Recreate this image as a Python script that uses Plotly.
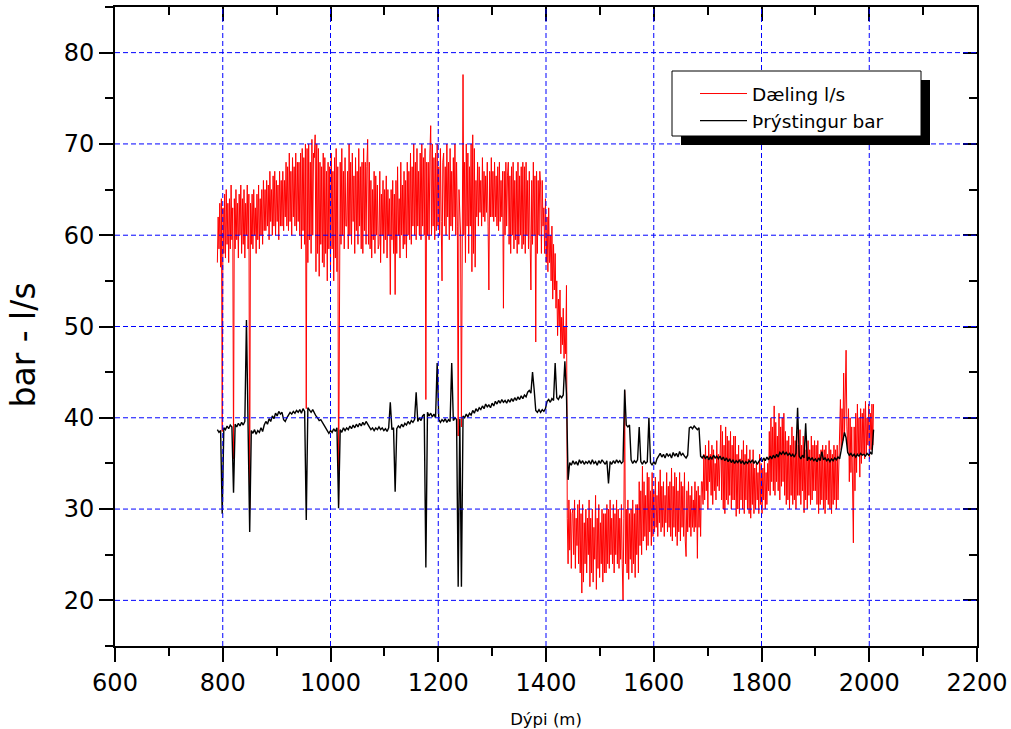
import numpy as np
import plotly.graph_objects as go

# Depth sampling of the two logs (m)
DEPTH_START = 790
RATE_STEP = 1.5       # Dæling sampled every 1.5 m
PRESSURE_STEP = 3     # Þrýstingur sampled every 3 m

# Dæling (pump rate, l/s), one row per 30 m starting at the depth in the comment
daeling = [
    57, 62, 58.5, 63.5, 56.5, 64, 38.5, 63, 58, 64.5, 57.5, 65, 59, 63.5, 57, 64, 58.5, 65.5, 59.5, 63,            # 790
    35.5, 64, 58.5, 65, 59.5, 63.5, 57.5, 64.5, 60, 65.5, 58, 64, 59, 65, 57.5, 63.5, 60, 65.5, 58.5, 64.5,        # 820
    30, 63.5, 59, 64.5, 58.5, 65, 60, 63, 58, 64.5, 59.5, 65.5, 58.5, 64, 60, 65, 59, 66, 60.5, 65,                # 850
    60.5, 66, 61, 65.5, 59.5, 67, 61.5, 65, 60, 66.5, 61, 67, 60, 66, 61.5, 65.5, 59.5, 67, 61, 66,                # 880
    61, 67, 60.5, 66, 62, 68, 61, 67.5, 60.5, 69, 61.5, 67, 60, 68.5, 62, 67.5, 61, 69, 60.5, 68,                  # 910
    61.5, 68, 60, 69, 58.5, 69.5, 60.5, 68.5, 59, 70, 41, 69.5, 57, 70, 59.5, 68, 58, 70.5, 60, 69,                # 940
    68.5, 71, 56, 70, 58, 69.5, 55.5, 68, 59, 67.5, 57, 69, 56.5, 68.5, 58, 67, 55, 68, 58.5, 67.5,                # 970
    56, 69, 58.5, 67, 55, 68.5, 57.5, 69.5, 56, 67.5, 30.5, 62, 68, 59, 69.5, 60, 67, 58.5, 68.5, 61,              # 1000
    61, 67, 58.5, 70, 60, 68, 59, 69, 61.5, 66.5, 58, 68.5, 60.5, 67, 59, 69.5, 61, 67.5, 58.5, 68,                # 1030
    58, 69.5, 60.5, 68, 59, 67.5, 70.5, 59, 68, 58.5, 66, 57.5, 65, 59.5, 67, 58, 66.5, 60, 65.5, 58.5,            # 1060
    59, 67, 57, 64.5, 60, 66, 58, 65, 59.5, 66.5, 57.5, 65, 60, 64, 53.5, 65, 59.5, 66, 58, 64.5,                  # 1090
    53.5, 66, 58, 67.5, 60, 64, 57.5, 68, 60, 65.5, 58.5, 67, 59, 66, 57.5, 68, 60, 67, 59.5, 69,                  # 1120
    59, 67.5, 61, 70, 60, 68, 59.5, 69.5, 61, 67, 60, 69, 59.5, 70, 61, 68.5, 60, 69.5, 42, 68,                    # 1150
    60, 68, 59.5, 69, 72, 60, 70, 61, 68.5, 59.5, 69, 60.5, 70, 61, 67.5, 60, 69.5, 61.5, 55, 68,                  # 1180
    69, 61, 67.5, 60, 70, 62, 68, 59.5, 69.5, 61, 67, 60.5, 68.5, 62, 70, 60, 68, 61, 38, 65,                      # 1210
    63, 60, 39, 66, 77.6, 60, 68, 57, 70, 61, 69, 58, 67.5, 61, 70, 56, 71, 58, 69.5, 56.5,                        # 1240
    66, 62, 68, 61, 67.5, 62.5, 66, 61, 68.5, 62, 67, 61.5, 66.5, 62.5, 68, 61, 54, 67, 62, 68.5,                  # 1270
    62, 67, 61.5, 68, 62, 66.5, 61, 67.5, 60.5, 68, 61.5, 66, 62, 67, 52, 67, 60, 68, 61, 66.5,                    # 1300
    68, 59, 66.5, 58, 67.5, 60, 68, 58.5, 66, 59.5, 67, 58, 68, 59, 66.5, 60, 67.5, 58.5, 68, 59,                  # 1330
    67.5, 58, 68, 60, 66, 58.5, 67, 59.5, 54, 66, 59, 68, 60, 66.5, 48.3, 67, 58, 66, 60, 67,                      # 1360
    65.5, 58, 66, 61, 63, 58, 64, 57, 62, 56, 63, 57, 60, 55, 61, 53, 59, 54, 58, 52,                              # 1390
    55, 49, 53, 50, 54, 47, 51, 48, 52, 46.5, 50, 47, 54.5, 29, 24, 31, 25.5, 30, 23.5, 29.5,                      # 1420
    30, 25, 31, 23.5, 29, 26, 30.5, 24, 31, 23, 29.5, 20.8, 30.5, 22, 28.5, 24, 30, 23, 29, 25,                    # 1450
    31, 21.5, 29, 23, 30, 22, 28, 24.5, 31.5, 21.2, 29, 23.5, 30.5, 22.5, 28.5, 24, 30, 22, 29.5, 23,              # 1480
    29.5, 23, 30.5, 24, 30, 23.5, 31, 25, 29, 24, 30.5, 23, 29.5, 25, 31, 24, 30, 23.5, 29, 24.5,                  # 1510
    30.5, 24, 20, 29, 43, 24, 30, 23, 31, 22.3, 29.5, 24.5, 30, 23, 31, 24, 29.5, 22.5, 30.5, 25,                  # 1540
    30.5, 23, 33, 26, 32, 25, 34.7, 26.5, 33, 27, 31.5, 25.5, 34, 26, 33.5, 27.5, 32, 26, 34, 27,                  # 1570
    32, 27.5, 33.5, 28, 31.5, 27, 33, 28.5, 34.3, 27.5, 32.5, 28, 33, 27, 31.5, 28.5, 34, 27.5, 32.5, 28,          # 1600
    33, 27, 34.5, 26.5, 32.5, 28, 34, 27, 33.5, 26, 32, 27.5, 34, 26.5, 33, 28, 32.5, 27, 34, 26.5,                # 1630
    24.8, 32, 27.5, 33, 28, 31.5, 27, 32.5, 28, 31, 27.5, 33, 28, 32, 24.6, 32.5, 28, 31.5, 27, 33,                # 1660
    33, 30.5, 36, 31, 37, 32, 35.5, 30, 37.5, 33, 36, 31.5, 37, 30.5, 36.5, 32, 35, 31, 37.5, 32.5,                # 1690
    36, 32, 37, 39.2, 31, 38.5, 30, 37, 29.5, 39, 31, 38, 30.5, 37.5, 31.5, 38.5, 30, 37, 31, 38,                  # 1720
    31, 38, 29.2, 36, 30, 37, 29.5, 35.5, 31, 36.5, 30, 37.5, 29.5, 36, 31, 37, 30, 35.5, 29.5, 36.5,              # 1750
    29, 35, 30.5, 36.5, 29.5, 34.5, 30, 35, 31, 34, 29.5, 36, 30.5, 35, 29.5, 34.5, 31, 35.5, 30, 34,              # 1780
    30.5, 35, 32, 38.5, 31.5, 40, 33, 39, 32, 41.3, 31.5, 39.5, 33, 38, 32, 40.5, 31, 39, 32.5, 40,                # 1810
    33, 40.5, 31.5, 38.5, 30.5, 37.5, 31, 38, 30, 37, 31.5, 39, 30.5, 38, 31, 37.5, 30, 38.5, 31.5, 37,            # 1840
    31.5, 38.7, 30.5, 37, 32, 38, 29.6, 36.5, 31, 38, 30, 37.5, 31.5, 36.5, 30.5, 38, 31, 37, 32, 37.5,            # 1870
    32, 37, 30.5, 37.5, 29.5, 36, 30.5, 36.5, 31, 37, 30, 36.5, 29.5, 37, 31, 36, 30.5, 37.5, 30, 36.5,            # 1900
    29.5, 36, 30.5, 37, 31, 36.5, 30, 37, 31, 36, 37, 42, 36.5, 41, 37.5, 44.9, 38, 43, 47.4, 39,                  # 1930
    36.5, 41, 33, 40, 34, 39, 32.5, 26.3, 39, 32, 40.5, 34, 41.5, 36, 40, 33.5, 41, 35, 40.5, 36,                  # 1960
    41, 35.5, 41.8, 36, 40, 37, 41.5, 35.5, 40.5, 36.5, 41.5, 37, 41.5,                                            # 1990
]

# Þrýstingur (pressure, bar), one row per 30 m starting at the depth in the comment
thrystingur = [
    38.7, 38.4, 38.6, 29.5, 38.9, 38.7, 39.1, 38.8, 39.2, 39.0,  # 790
    31.8, 39.3, 39.0, 39.4, 39.1, 39.5, 39.2, 39.6, 50.7, 39.4,  # 820
    27.5, 38.6, 38.3, 38.7, 38.2, 38.6, 38.4, 38.9, 38.5, 39.2,  # 850
    39.6, 39.3, 39.9, 39.6, 40.2, 39.9, 40.5, 40.2, 40.7, 40.4,  # 880
    40.6, 39.8, 39.6, 40.0, 40.3, 40.6, 40.4, 40.7, 40.5, 40.8,  # 910
    40.6, 40.9, 40.5, 41.0, 40.7, 28.8, 41.1, 40.8, 40.6, 40.9,  # 940
    40.5, 40.2, 40.0, 39.7, 39.8, 39.4, 39.2, 38.9, 38.6, 38.3,  # 970
    38.6, 38.4, 38.8, 38.5, 38.9, 30.1, 38.7, 38.4, 38.9, 38.6,  # 1000
    38.9, 38.7, 39.1, 38.8, 39.2, 38.9, 39.3, 39.0, 39.4, 39.1,  # 1030
    39.5, 39.2, 39.6, 39.3, 39.0, 38.7, 38.9, 38.6, 38.9, 38.7,  # 1060
    39.0, 38.7, 38.9, 38.6, 38.8, 38.5, 38.9, 41.7, 38.7, 38.9,  # 1090
    31.9, 38.8, 39.1, 38.9, 39.3, 39.0, 39.4, 39.2, 39.6, 39.3,  # 1120
    39.7, 39.5, 39.8, 42.8, 39.6, 40.0, 39.7, 40.2, 40.4, 23.6,  # 1150
    40.6, 40.2, 40.5, 40.1, 40.4, 40.0, 46.0, 39.8, 39.5, 39.8,  # 1180
    39.6, 39.9, 39.5, 39.8, 39.6, 46.0, 39.7, 40.0, 39.8, 21.5,  # 1210
    39.9, 21.5, 40.2, 40.0, 40.4, 40.1, 40.5, 40.3, 40.8, 40.5,  # 1240
    41.0, 40.7, 41.1, 40.9, 41.3, 41.0, 41.5, 41.2, 41.4, 41.1,  # 1270
    41.6, 41.3, 41.8, 41.5, 41.9, 41.6, 42.0, 41.7, 41.9, 41.6,  # 1300
    42.0, 41.7, 42.1, 41.8, 42.2, 41.9, 42.3, 42.0, 42.4, 42.1,  # 1330
    42.5, 42.3, 42.8, 43.0, 42.7, 45.0, 43.1, 40.8, 40.6, 40.9,  # 1360
    40.6, 40.9, 40.7, 41.0, 41.8, 42.0, 41.7, 42.1, 41.9, 46.0,  # 1390
    42.2, 42.0, 42.4, 42.2, 42.5, 46.2, 42.6, 33.2, 35.1, 34.8,  # 1420
    35.3, 34.9, 35.2, 34.8, 35.4, 35.0, 35.3, 34.9, 35.2, 35.0,  # 1450
    35.3, 34.9, 35.4, 35.0, 35.2, 34.8, 35.3, 35.0, 35.4, 35.1,  # 1480
    34.9, 35.3, 32.8, 35.2, 34.9, 35.3, 35.0, 35.4, 35.1, 35.3,  # 1510
    35.0, 35.2, 43.1, 39.2, 39.0, 39.2, 35.4, 35.0, 35.3, 35.1,  # 1540
    35.4, 39.0, 35.2, 34.9, 35.3, 35.0, 35.2, 40.0, 35.1, 34.8,  # 1570
    35.2, 34.9, 35.5, 35.8, 36.1, 35.7, 36.0, 35.6, 36.1, 35.8,  # 1600
    36.0, 35.6, 36.2, 35.8, 36.1, 35.7, 36.3, 35.9, 36.1, 35.8,  # 1630
    35.6, 35.9, 38.9, 39.0, 38.8, 39.1, 38.9, 38.7, 38.9, 35.8,  # 1660
    35.6, 35.9, 35.5, 35.8, 35.4, 35.7, 35.5, 35.9, 35.6, 35.8,  # 1690
    35.5, 35.8, 35.4, 35.7, 35.3, 35.6, 35.2, 35.5, 35.1, 35.4,  # 1720
    35.0, 35.3, 35.1, 35.4, 35.0, 35.3, 34.9, 35.2, 35.0, 35.3,  # 1750
    35.1, 35.4, 35.0, 35.3, 34.9, 35.2, 35.5, 35.2, 35.6, 35.3,  # 1780
    35.7, 35.4, 35.8, 35.5, 35.9, 35.6, 36.0, 35.7, 36.2, 36.0,  # 1810
    36.3, 36.0, 36.2, 35.9, 36.1, 35.8, 36.0, 35.7, 36.1, 41.1,  # 1840
    35.8, 35.5, 35.9, 35.6, 39.4, 35.3, 35.7, 35.4, 35.6, 35.3,  # 1870
    35.5, 35.2, 35.6, 35.3, 36.3, 35.4, 35.6, 35.3, 35.5, 35.2,  # 1900
    35.5, 35.3, 35.6, 35.4, 35.7, 35.5, 36.5, 37.6, 38.4, 37.8,  # 1930
    36.2, 35.9, 36.1, 35.8, 36.0, 35.7, 36.0, 35.8, 36.1, 35.9,  # 1960
    36.0, 35.8, 36.1, 35.9, 36.2, 36.0, 38.7,                    # 1990
]

series_names = ["Dæling l/s", "Þrýstingur bar"]
x_title = "Dýpi (m)"
y_title = "bar - l/s"

x_range = [600, 2200]
y_range = [15, 85]
x_grid = [800, 1000, 1200, 1400, 1600, 1800, 2000]
y_grid = [20, 30, 40, 50, 60, 70, 80]

depth_rate = DEPTH_START + RATE_STEP * np.arange(len(daeling))
depth_pressure = DEPTH_START + PRESSURE_STEP * np.arange(len(thrystingur))

FONT = "DejaVu Sans"
W, H = 1011, 729
ML, MR, MT, MB = 115, 34, 7, 83
PW, PH = W - ML - MR, H - MT - MB


def fx(px):
    """pixel column -> paper x"""
    return (px - ML) / PW


def fy(py):
    """pixel row -> paper y"""
    return (H - MB - py) / PH


fig = go.Figure()
fig.add_trace(go.Scatter(x=depth_rate, y=daeling, mode="lines", name=series_names[0],
                         line=dict(color="#ff0000", width=1)))
fig.add_trace(go.Scatter(x=depth_pressure, y=thrystingur, mode="lines", name=series_names[1],
                         line=dict(color="#000000", width=1.4)))
# empty trace that anchors the mirrored top/right axes
fig.add_trace(go.Scatter(x=[None], y=[None], xaxis="x2", yaxis="y2",
                         showlegend=False, hoverinfo="skip"))

shapes = []
grid_line = dict(color="#0000ff", width=1, dash="5px,3px")
for gx in x_grid:
    shapes.append(dict(type="line", xref="x", yref="paper", x0=gx, x1=gx, y0=0, y1=1,
                       line=grid_line, layer="above"))
for gy in y_grid:
    shapes.append(dict(type="line", xref="paper", yref="y", x0=0, x1=1, y0=gy, y1=gy,
                       line=grid_line, layer="above"))
# legend frame with drop shadow
shapes.append(dict(type="rect", xref="paper", yref="paper",
                   x0=fx(681), x1=fx(930), y0=fy(145), y1=fy(80),
                   fillcolor="#000000", line=dict(width=0), layer="above"))
shapes.append(dict(type="rect", xref="paper", yref="paper",
                   x0=fx(672), x1=fx(921), y0=fy(136), y1=fy(71),
                   fillcolor="#ffffff", line=dict(color="#000000", width=1), layer="above"))

axis_common = dict(showline=True, linewidth=2, linecolor="black", showgrid=False,
                   zeroline=False, tickwidth=2, tickcolor="black", ticklen=14)

fig.update_layout(
    width=W, height=H,
    margin=dict(l=ML, r=MR, t=MT, b=MB, pad=0, autoexpand=False),
    paper_bgcolor="white", plot_bgcolor="white",
    font=dict(family=FONT, color="black"),
    showlegend=True,
    xaxis=dict(range=x_range, tick0=600, dtick=200, ticks="outside",
               tickfont=dict(family=FONT, size=24, color="black"),
               minor=dict(ticks="outside", ticklen=8, tickwidth=2, tickcolor="black",
                          tick0=600, dtick=100, showgrid=False),
               title=dict(text=x_title, font=dict(family=FONT, size=16.5, color="black"),
                          standoff=18),
               **axis_common),
    yaxis=dict(range=y_range, tick0=0, dtick=10, ticks="outside",
               tickfont=dict(family=FONT, size=24, color="black"),
               minor=dict(ticks="outside", ticklen=8, tickwidth=2, tickcolor="black",
                          tick0=0, dtick=5, showgrid=False),
               **axis_common),
    xaxis2=dict(range=x_range, overlaying="x", side="top", tick0=600, dtick=200,
                ticks="inside", showticklabels=False,
                minor=dict(ticks="inside", ticklen=8, tickwidth=2, tickcolor="black",
                           tick0=600, dtick=100, showgrid=False),
                **axis_common),
    yaxis2=dict(range=y_range, overlaying="y", side="right", tick0=0, dtick=10,
                ticks="inside", showticklabels=False,
                minor=dict(ticks="inside", ticklen=8, tickwidth=2, tickcolor="black",
                           tick0=0, dtick=5, showgrid=False),
                **axis_common),
    legend=dict(x=fx(695), y=fy(75), xanchor="left", yanchor="top",
                bgcolor="rgba(0,0,0,0)", borderwidth=0, itemwidth=47,
                font=dict(family=FONT, size=18.5, color="black"), tracegroupgap=0),
    shapes=shapes,
    annotations=[dict(text=y_title, xref="paper", yref="paper",
                      x=fx(22.5), y=fy(345), xanchor="center", yanchor="middle",
                      textangle=-90, showarrow=False,
                      font=dict(family=FONT, size=33, color="black"))],
)

fig.write_html("out.html", config={"displayModeBar": False})
